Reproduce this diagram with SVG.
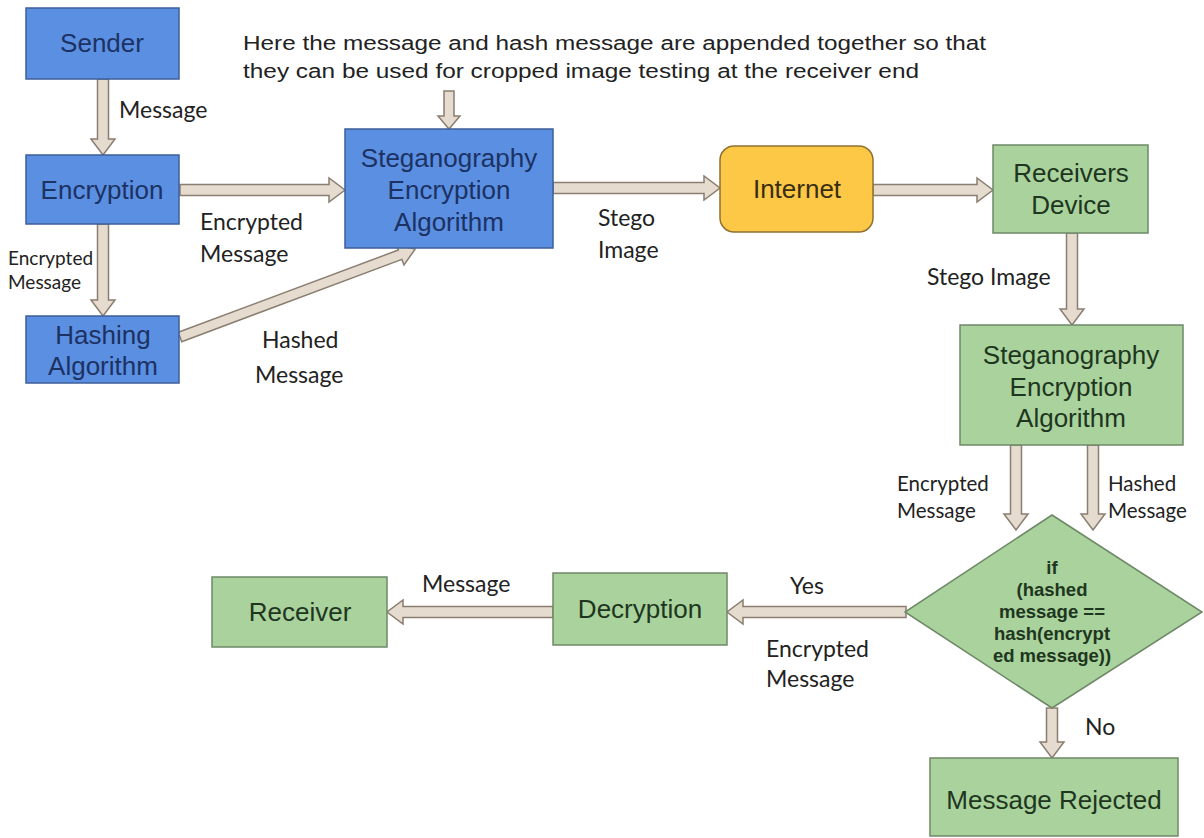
<svg xmlns="http://www.w3.org/2000/svg" width="1204" height="838" viewBox="0 0 1204 838">
<style>
.blue{fill:#5b8fe2;stroke:#3d5f98;stroke-width:1.5}
.green{fill:#a9d29c;stroke:#6f8868;stroke-width:1.5}
.yellow{fill:#fcc846;stroke:#8f7233;stroke-width:1.5}
.arr{fill:#e5dbce;stroke:#8a7e70;stroke-width:1.5;stroke-linejoin:miter}
.nb{font-family:"Liberation Sans",Arial,sans-serif;font-size:26px;fill:#1b3263;text-anchor:middle}
.ng{font-family:"Liberation Sans",Arial,sans-serif;font-size:26px;fill:#1e3620;text-anchor:middle}
.ny{font-family:"Liberation Sans",Arial,sans-serif;font-size:26px;fill:#3a2e12;text-anchor:middle}
.lbl{font-family:Lato,"Open Sans",sans-serif;font-size:23px;fill:#222}
.sm{font-family:Lato,"Open Sans",sans-serif;font-size:19px;fill:#222}
.md{font-family:Lato,"Open Sans",sans-serif;font-size:20.5px;fill:#222}
.note{font-family:"Liberation Sans",Arial,sans-serif;font-size:20px;fill:#222}
.dia{font-family:"Liberation Sans",Arial,sans-serif;font-size:18.5px;font-weight:bold;fill:#1e3620;text-anchor:middle}
</style>
<rect width="1204" height="838" fill="#ffffff"/>

<g id="connectors">
  <polygon class="arr" points="97.5,79 108.5,79 108.5,139 115,139 103,155 91,139 97.5,139"/>
  <polygon class="arr" points="97.5,224 108.5,224 108.5,300 115,300 103,316 91,300 97.5,300"/>
  <polygon class="arr" points="180,184.5 329,184.5 329,178 345,190 329,202 329,195.5 180,195.5"/>
  <g transform="translate(180,337) rotate(-20.5)">
    <polygon class="arr" points="0,-5 235,-5 235,-11 251,0 235,11 235,5 0,5"/>
  </g>
  <polygon class="arr" points="444,91 454,91 454,116 460,116 449,129 438,116 444,116"/>
  <polygon class="arr" points="553,182.5 704,182.5 704,176 720,188 704,200 704,193.5 553,193.5"/>
  <polygon class="arr" points="873,184.5 977,184.5 977,178 993,190 977,202 977,195.5 873,195.5"/>
  <polygon class="arr" points="1066.5,233 1077.5,233 1077.5,309 1084,309 1072,325 1060,309 1066.5,309"/>
  <polygon class="arr" points="1010.5,445 1021.5,445 1021.5,514 1028,514 1016,530 1004,514 1010.5,514"/>
  <polygon class="arr" points="1087.5,445 1098.5,445 1098.5,514 1105,514 1093,530 1081,514 1087.5,514"/>
  <polygon class="arr" points="906,606.5 743,606.5 743,600 727,612 743,624 743,617.5 906,617.5"/>
  <polygon class="arr" points="553,606.5 403,606.5 403,600 387,612 403,624 403,617.5 553,617.5"/>
  <polygon class="arr" points="1046.5,708 1057.5,708 1057.5,742 1064,742 1052,758 1040,742 1046.5,742"/>
</g>

<g id="labels">
  <text class="note" x="243" y="50" textLength="743" lengthAdjust="spacingAndGlyphs">Here the message and hash message are appended together so that</text>
  <text class="note" x="243" y="78" textLength="676" lengthAdjust="spacingAndGlyphs">they can be used for cropped image testing at the receiver end</text>
  <text class="lbl" x="119" y="118">Message</text>
  <text class="lbl" x="200" y="230">Encrypted</text>
  <text class="lbl" x="200" y="262">Message</text>
  <text class="sm" x="8" y="265">Encrypted</text>
  <text class="sm" x="8" y="289">Message</text>
  <text class="lbl" x="262" y="348">Hashed</text>
  <text class="lbl" x="255" y="383">Message</text>
  <text class="lbl" x="598" y="226">Stego</text>
  <text class="lbl" x="598" y="258">Image</text>
  <text class="lbl" x="927" y="285">Stego Image</text>
  <text class="md" x="897" y="491">Encrypted</text>
  <text class="md" x="897" y="518">Message</text>
  <text class="md" x="1108" y="491">Hashed</text>
  <text class="md" x="1108" y="518">Message</text>
  <text class="lbl" x="422" y="592">Message</text>
  <text class="lbl" x="790" y="594">Yes</text>
  <text class="lbl" x="766" y="657">Encrypted</text>
  <text class="lbl" x="766" y="687">Message</text>
  <text class="lbl" x="1085" y="735">No</text>
</g>

<g id="sender">
  <rect class="blue" x="26" y="8" width="153" height="71"/>
  <text class="nb" x="102" y="52">Sender</text>
</g>
<g id="encryption">
  <rect class="blue" x="26" y="155" width="153" height="69"/>
  <text class="nb" x="102" y="199">Encryption</text>
</g>
<g id="hashing">
  <rect class="blue" x="26" y="316" width="153" height="67"/>
  <text class="nb" x="103" y="344">Hashing</text>
  <text class="nb" x="103" y="375">Algorithm</text>
</g>
<g id="steg-enc">
  <rect class="blue" x="345" y="129" width="208" height="119"/>
  <text class="nb" x="449" y="167">Steganography</text>
  <text class="nb" x="449" y="199">Encryption</text>
  <text class="nb" x="449" y="231">Algorithm</text>
</g>
<g id="internet">
  <rect class="yellow" x="720" y="146" width="153" height="86" rx="14" ry="14"/>
  <text class="ny" x="797" y="198">Internet</text>
</g>
<g id="receivers-device">
  <rect class="green" x="993" y="145" width="155" height="88"/>
  <text class="ng" x="1071" y="182">Receivers</text>
  <text class="ng" x="1071" y="214">Device</text>
</g>
<g id="steg-dec">
  <rect class="green" x="960" y="325" width="223" height="120"/>
  <text class="ng" x="1071" y="364">Steganography</text>
  <text class="ng" x="1071" y="396">Encryption</text>
  <text class="ng" x="1071" y="427">Algorithm</text>
</g>
<g id="decision">
  <polygon class="green" points="1052,515 1202,612 1052,708 905,612"/>
  <text class="dia" x="1052" y="574">if</text>
  <text class="dia" x="1052" y="596">(hashed</text>
  <text class="dia" x="1052" y="618">message ==</text>
  <text class="dia" x="1052" y="640">hash(encrypt</text>
  <text class="dia" x="1052" y="662">ed message))</text>
</g>
<g id="decryption">
  <rect class="green" x="553" y="573" width="174" height="72"/>
  <text class="ng" x="640" y="618">Decryption</text>
</g>
<g id="receiver">
  <rect class="green" x="212" y="577" width="175" height="70"/>
  <text class="ng" x="300" y="621">Receiver</text>
</g>
<g id="rejected">
  <rect class="green" x="930" y="758" width="248" height="78"/>
  <text class="ng" x="1054" y="809">Message Rejected</text>
</g>
</svg>
